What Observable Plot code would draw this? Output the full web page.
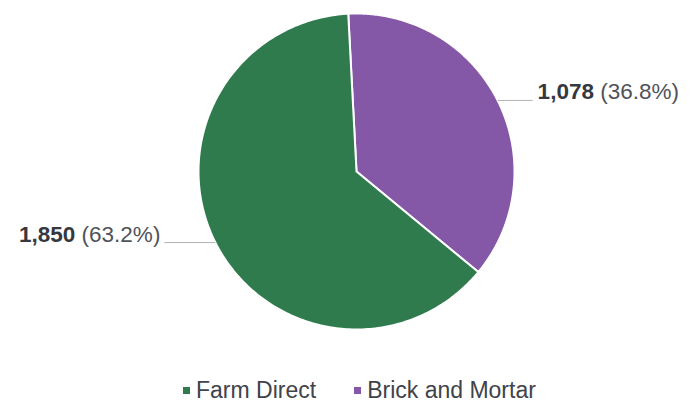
<!DOCTYPE html>
<html><head><meta charset="utf-8">
<script src="https://cdn.jsdelivr.net/npm/d3@7"></script>
<script src="https://cdn.jsdelivr.net/npm/@observablehq/plot@0.6"></script>
<style>
body{margin:0;background:#fff;}
#chart svg{display:block;}
.leg-swatch{margin-right:0 !important;}
.leg-swatch + .leg-swatch{margin-left:38px !important;}
.leg-swatch > svg{margin-right:6px !important;}
</style></head><body><div id="chart"></div>
<script>
// Data (slice order is clockwise from the top)
const categories = ["Brick and Mortar", "Farm Direct"];
const values = [1078, 1850];
const colors = ["#8458a6", "#2f7b4e"];
const legendOrder = ["Farm Direct", "Brick and Mortar"];
const legendColors = ["#2f7b4e", "#8458a6"];

const FONT = "'Liberation Sans', Arial, Helvetica, sans-serif";
const startDeg = -3;
const total = d3.sum(values);
const fmt = d3.format(",");

// build slice polygons in unit-circle data space
const arcs = d3.pie().sort(null)
  .startAngle(startDeg * Math.PI / 180)
  .endAngle((startDeg + 360) * Math.PI / 180)(values);

const polyPts = [];
const labels = [];
arcs.forEach((a, i) => {
  const name = categories[i];
  polyPts.push({name, x: 0, y: 0});
  const n = 240;
  for (let k = 0; k <= n; k++) {
    const t = a.startAngle + (a.endAngle - a.startAngle) * k / n;
    polyPts.push({name, x: Math.sin(t), y: Math.cos(t)});
  }
  polyPts.push({name, x: 0, y: 0});
  const m = (a.startAngle + a.endAngle) / 2;
  const side = Math.sin(m) >= 0 ? 1 : -1;
  const x1 = Math.sin(m), y1 = Math.cos(m);
  const ext = side > 0 ? 35 / 158 : 51 / 158;
  const pct = (values[i] / total * 100).toFixed(1);
  labels.push({name, side, x1, y1, x2: x1 + side * ext, y2: y1,
    label: fmt(values[i]) + " (" + pct + "%)"});
});

const chart = Plot.plot({
  width: 691,
  height: 354,
  margin: 0,
  style: {fontFamily: FONT, background: "#fff", overflow: "visible"},
  x: {domain: [-1, 1], range: [198, 514], axis: null},
  y: {domain: [-1, 1], range: [329, 13], axis: null},
  color: {domain: categories, range: colors},
  marks: [
    Plot.line(polyPts, {x: "x", y: "y", z: "name", fill: "name", stroke: "#fff", strokeWidth: 2, strokeLinejoin: "round"}),
    Plot.link(labels, {x1: "x1", y1: "y1", x2: "x2", y2: "y2", stroke: "#b3b3b3", strokeWidth: 1}),
    Plot.text(labels, {filter: d => d.side > 0, x: "x2", y: "y2", text: "label", textAnchor: "start", lineAnchor: "bottom", dx: 5, dy: -1, fontSize: 22.5, fill: "#50535a"}),
    Plot.text(labels, {filter: d => d.side < 0, x: "x2", y: "y2", text: "label", textAnchor: "end", lineAnchor: "bottom", dx: -4, dy: -1, fontSize: 22.5, fill: "#50535a"})
  ]
});

// bold the count part of each label
const NS = "http://www.w3.org/2000/svg";
chart.querySelectorAll('g[aria-label="text"] text').forEach(t => {
  const s = t.textContent;
  const sp = s.indexOf(" ");
  const num = s.slice(0, sp), rest = s.slice(sp);
  t.textContent = "";
  const a = document.createElementNS(NS, "tspan");
  a.setAttribute("font-weight", "bold");
  a.setAttribute("fill", "#35383e");
  a.textContent = num;
  const b = document.createElementNS(NS, "tspan");
  b.textContent = rest;
  t.appendChild(a); t.appendChild(b);
});

const legend = Plot.legend({
  color: {domain: legendOrder, range: legendColors},
  legend: "swatches",
  className: "leg",
  swatchSize: 7,
  style: {fontFamily: FONT, fontSize: "23px", color: "#404349", justifyContent: "flex-start", marginLeft: "183px", marginTop: "20px"}
});

const root = document.getElementById("chart");
root.appendChild(chart);
root.appendChild(legend);
</script></body></html>
